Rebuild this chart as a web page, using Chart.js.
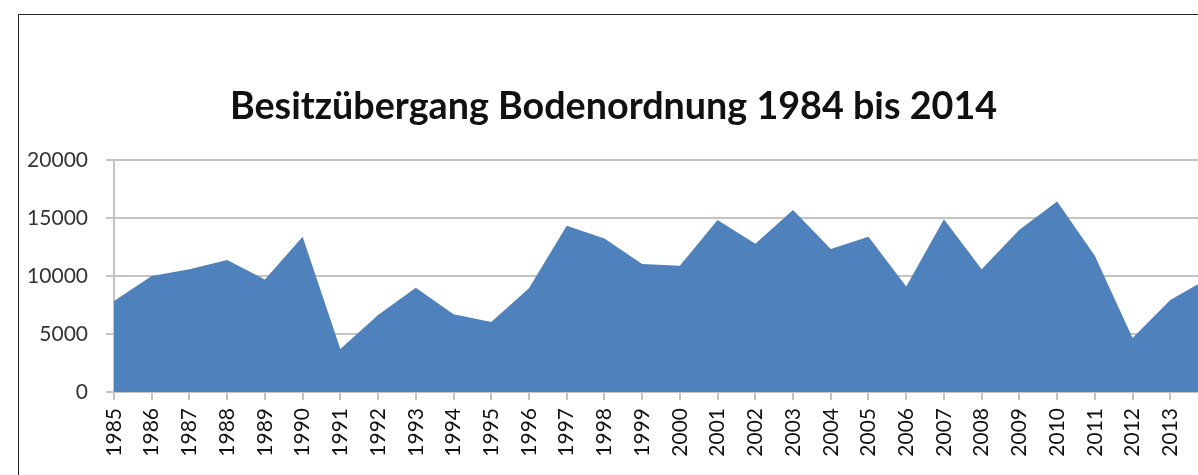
<!DOCTYPE html>
<html lang="de">
<head>
<meta charset="utf-8">
<title>Besitzübergang Bodenordnung</title>
<script src="https://cdn.jsdelivr.net/npm/chart.js@4.4.1/dist/chart.umd.min.js"></script>
<style>
  html, body { margin: 0; padding: 0; background: #fff; overflow: hidden; }
  #page {
    position: relative; width: 1198px; height: 475px; overflow: hidden;
  }
  #frame {
    position: absolute; left: 18px; top: 14px;
    width: 1202px; height: 470px;
    border: 1px solid #262626;
  }
  #chart { display: block; }
</style>
</head>
<body>
<div id="page">
  <div id="frame">
    <canvas id="chart" width="1202" height="470"></canvas>
  </div>
</div>
<script>
// Jahre und Besitzübergänge (Anzahl)
const years = [
  '1985', '1986', '1987', '1988', '1989', '1990', '1991', '1992', '1993', '1994',
  '1995', '1996', '1997', '1998', '1999', '2000', '2001', '2002', '2003', '2004',
  '2005', '2006', '2007', '2008', '2009', '2010', '2011', '2012', '2013', '2014'
];
const transfers = [
  7850, 10000, 10600, 11400, 9700, 13400, 3700, 6650, 9000, 6700,
  6050, 8950, 14350, 13250, 11050, 10900, 14850, 12800, 15700, 12350,
  13400, 9100, 14900, 10600, 14000, 16450, 11750, 4650, 7950, 9800
];
const yTicks = [0, 5000, 10000, 15000, 20000];

const gridGray = '#c4c4c4';
const fontFamily = 'Lato, "Open Sans", sans-serif';

const ctx = document.getElementById('chart').getContext('2d');
const chart = new Chart(ctx, {
  type: 'line',
  data: {
    labels: years,
    datasets: [{
      label: 'Besitzübergang',
      data: transfers,
      fill: 'origin',
      backgroundColor: '#4F81BD',
      borderWidth: 0,
      pointRadius: 0,
      tension: 0
    }]
  },
  options: {
    responsive: false,
    animation: false,
    layout: { padding: { left: 0, right: 13, top: 0, bottom: 0 } },
    plugins: {
      legend: { display: false },
      tooltip: { enabled: false },
      title: {
        display: true,
        text: 'Besitzübergang Bodenordnung 1984 bis 2014',
        color: '#111',
        font: { family: fontFamily, size: 37.7, weight: 'bold', lineHeight: 1.2 },
        padding: { top: 69, bottom: 31 }
      }
    },
    scales: {
      x: {
        offset: false,
        grid: { drawOnChartArea: false, drawTicks: true, tickLength: 8, color: gridGray, lineWidth: 2 },
        border: { display: true, color: gridGray, width: 2 },
        ticks: {
          autoSkip: false,
          minRotation: 90,
          maxRotation: 90,
          padding: 8,
          color: '#111',
          font: { family: fontFamily, size: 21 }
        },
        // feste Achsenhöhe; der letzte Jahrgang darf über den Rand hinausragen
        afterFit: scale => {
          scale.height = 93;
          scale.paddingLeft = 0;
          scale.paddingRight = 0;
        }
      },
      y: {
        min: yTicks[0],
        max: yTicks[yTicks.length - 1],
        grid: { color: gridGray, lineWidth: 2, tickLength: 8 },
        border: { display: true, color: gridGray, width: 2 },
        ticks: {
          stepSize: yTicks[1] - yTicks[0],
          padding: 18,
          color: '#333',
          font: { family: fontFamily, size: 21 },
          callback: v => String(v)
        },
        afterFit: scale => { scale.width = 95; }
      }
    }
  }
});
</script>
</body>
</html>
